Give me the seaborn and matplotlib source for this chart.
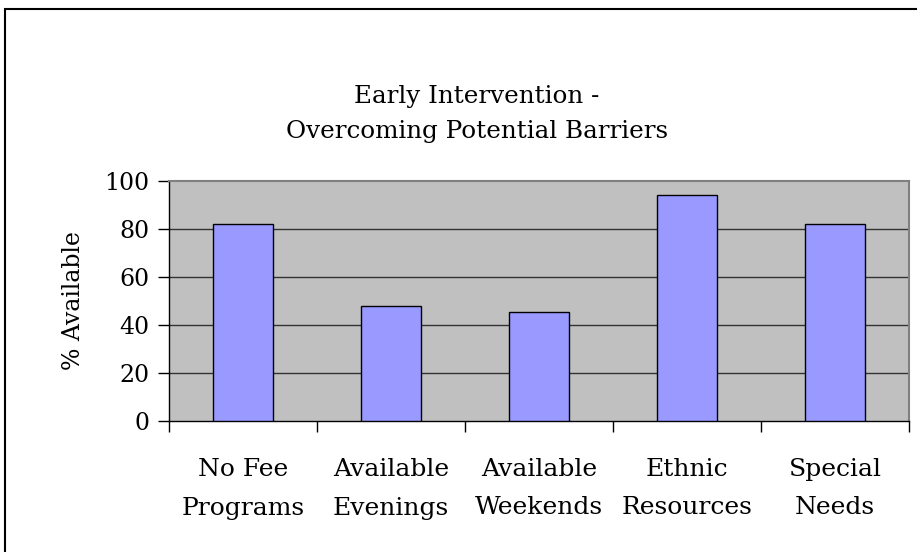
import numpy as np
import pandas as pd
import matplotlib
matplotlib.use('Agg')
import matplotlib.pyplot as plt
import matplotlib.patches as patches
import seaborn as sns

categories = ['No Fee\nPrograms', 'Available\nEvenings', 'Available\nWeekends',
              'Ethnic\nResources', 'Special\nNeeds']
values = [82, 48, 45.5, 94, 82]
y_ticks = [0, 20, 40, 60, 80, 100]

sns.set_style('white')
plt.rcParams['font.family'] = ['DejaVu Serif']
plt.rcParams['text.color'] = 'black'
plt.rcParams['axes.labelcolor'] = 'black'
plt.rcParams['xtick.color'] = 'black'
plt.rcParams['ytick.color'] = 'black'

df = pd.DataFrame({'category': categories, 'value': values})

fig = plt.figure(figsize=(9.17, 5.52), dpi=100)
ax = fig.add_axes([169 / 917, 1 - 420.7 / 552, (909 - 169) / 917, (420.7 - 181) / 552])
ax.set_facecolor('#C0C0C0')

sns.barplot(data=df, x='category', y='value', color='#9999FF', saturation=1,
            edgecolor='black', linewidth=1, width=0.4, ax=ax, zorder=3)

ax.set_ylim(0, 100)
ax.set_xlim(-0.5, len(categories) - 0.5)
ax.set_yticks(y_ticks)
ax.set_yticklabels([str(t) for t in y_ticks], fontsize=17)
for t in y_ticks[1:-1]:
    ax.axhline(t, color='#333333', lw=1, zorder=1)

# boundary ticks as major, labels on minor ticks at category centres
ax.set_xticks(np.arange(len(categories) + 1) - 0.5)
ax.set_xticklabels([])
ax.set_xticks(np.arange(len(categories)), minor=True)
ax.set_xticklabels(categories, minor=True, fontsize=18, linespacing=1.85)
ax.tick_params(axis='x', which='major', direction='out', length=8, width=1, color='black', bottom=True)
ax.tick_params(axis='x', which='minor', length=0, pad=27)
ax.tick_params(axis='y', direction='out', length=8, width=1, color='black', left=True, pad=6)

ax.set_xlabel('')
ax.set_ylabel('% Available', fontsize=17, labelpad=14)

for side in ['top', 'right']:
    ax.spines[side].set_color('#808080')
    ax.spines[side].set_linewidth(1.5)
for side in ['left', 'bottom']:
    ax.spines[side].set_color('black')
    ax.spines[side].set_linewidth(1)

fig.text(477 / 917, 1 - 96 / 552, 'Early Intervention -', ha='center', va='center', fontsize=17.7)
fig.text(477 / 917, 1 - 131 / 552, 'Overcoming Potential Barriers', ha='center', va='center', fontsize=17.7)

border = patches.Rectangle((5 / 917, -0.1), 1.2, 1 - 9 / 552 + 0.1, transform=fig.transFigure,
                           fill=False, edgecolor='black', lw=1.5, clip_on=False)
fig.patches.append(border)

fig.savefig('out.png', dpi=100)
